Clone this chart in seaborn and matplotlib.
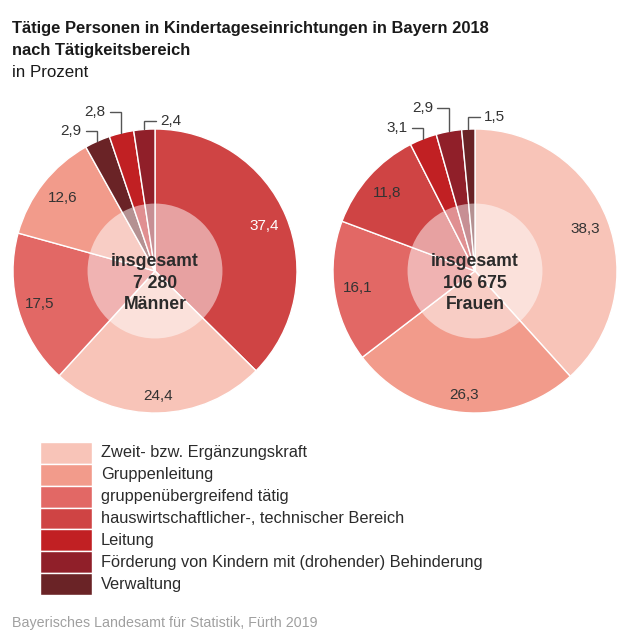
import numpy as np
import matplotlib
matplotlib.use("Agg")
import matplotlib.pyplot as plt
import seaborn as sns
from matplotlib.patches import Circle, Rectangle

sns.set_theme(style="white")
plt.rcParams['font.family'] = ['Liberation Sans', 'DejaVu Sans']

# Daten
kategorien = [
    "Zweit- bzw. Ergänzungskraft",
    "Gruppenleitung",
    "gruppenübergreifend tätig",
    "hauswirtschaftlicher-, technischer Bereich",
    "Leitung",
    "Förderung von Kindern mit (drohender) Behinderung",
    "Verwaltung",
]
maenner = [24.4, 12.6, 17.5, 37.4, 2.8, 2.4, 2.9]
frauen = [38.3, 26.3, 16.1, 11.8, 3.1, 2.9, 1.5]
gesamt_maenner = "7 280"
gesamt_frauen = "106 675"

farben = sns.color_palette(["#f8c4b8", "#f29b8b", "#e26865", "#cf4444",
                            "#c12023", "#901f29", "#6a2326"])

# Beschriftungen mit Hinweislinie: (Knickhoehe, Seite)
leader_m = {"Verwaltung": (0.986, -1), "Leitung": (1.12, -1),
            "Förderung von Kindern mit (drohender) Behinderung": (1.056, 1)}
leader_f = {"Leitung": (1.007, -1),
            "Förderung von Kindern mit (drohender) Behinderung": (1.148, -1),
            "Verwaltung": (1.085, 1)}

W, H = 636, 643
fig = plt.figure(figsize=(W / 100, H / 100), dpi=100)

R_PX = 142
def add_pie_axes(cx, cy):
    left = (cx - 1.05 * R_PX) / W
    bottom = (H - cy - 1.05 * R_PX) / H
    return fig.add_axes([left, bottom, 2.1 * R_PX / W, 2.3 * R_PX / H])


def draw_pie(ax, werte, gesamt, geschlecht, leader, hell_text):
    order = np.argsort(werte)[::-1]
    vals = [werte[i] for i in order]
    cols = [farben[i] for i in order]
    cats = [kategorien[i] for i in order]
    wedges, _ = ax.pie(vals, colors=cols, startangle=90, counterclock=False,
                       wedgeprops=dict(edgecolor="white", linewidth=1))
    for w, v, c in zip(wedges, vals, cats):
        ang = np.deg2rad((w.theta1 + w.theta2) / 2)
        txt = f"{v:.1f}".replace(".", ",")
        if c in leader:
            hy, side = leader[c]
            x0, y0 = np.cos(ang), np.sin(ang)
            x1 = x0 + side * 0.08
            ax.plot([x0, x0, x1], [y0, hy, hy], color="#555555", lw=1,
                    solid_joinstyle="miter", zorder=5)
            ax.text(x1 + side * 0.03, hy, txt, ha="left" if side > 0 else "right",
                    va="center", fontsize=11, color="#333333")
        else:
            # unten etwas weiter nach aussen
            r = 0.83 + 0.05 * max(0.0, -np.sin(ang))
            ax.text(r * np.cos(ang), r * np.sin(ang), txt, ha="center",
                    va="center", fontsize=11,
                    color="white" if c == hell_text else "#333333", zorder=6)
    ax.add_patch(Circle((0, 0), 0.475, color="white", alpha=0.5, lw=0, zorder=4))
    ax.text(0, -0.085, f"insgesamt\n{gesamt}\n{geschlecht}", ha="center",
            va="center", fontsize=12.7, fontweight="bold", color="#2b2b2b",
            linespacing=1.32, zorder=6)
    ax.set_xlim(-1.05, 1.05)
    ax.set_ylim(-1.05, 1.25)
    ax.set_aspect("equal")
    ax.axis("off")


ax1 = add_pie_axes(155, 271)
draw_pie(ax1, maenner, gesamt_maenner, "Männer", leader_m,
         "hauswirtschaftlicher-, technischer Bereich")
ax2 = add_pie_axes(475, 271)
draw_pie(ax2, frauen, gesamt_frauen, "Frauen", leader_f, None)

# Titel
fig.text(12 / W, 1 - 33 / H, "Tätige Personen in Kindertageseinrichtungen in Bayern 2018",
         fontsize=11.9, fontweight="bold", color="#1a1a1a", va="baseline")
fig.text(12 / W, 1 - 55 / H, "nach Tätigkeitsbereich",
         fontsize=11.9, fontweight="bold", color="#1a1a1a", va="baseline")
fig.text(12 / W, 1 - 77 / H, "in Prozent", fontsize=12.2, color="#1a1a1a",
         va="baseline")

# Legende (Farbfelder untereinander)
leg = fig.add_axes([40 / W, 1 - 595 / H, 52 / W, 153 / H])
leg.set_xlim(0, 1)
leg.set_ylim(len(kategorien), 0)
leg.axis("off")
for i, (c, lab) in enumerate(zip(farben, kategorien)):
    leg.add_patch(Rectangle((0, i), 1, 1, facecolor=c, edgecolor="white", lw=1))
    leg.text(61 / 52, i + 0.5, lab, ha="left", va="center", fontsize=11.8,
             color="#2b2b2b", clip_on=False)

fig.text(12 / W, 1 - 627 / H, "Bayerisches Landesamt für Statistik, Fürth 2019",
         fontsize=10.3, color="#a0a0a0", va="baseline")

fig.savefig("out.png", dpi=100)
